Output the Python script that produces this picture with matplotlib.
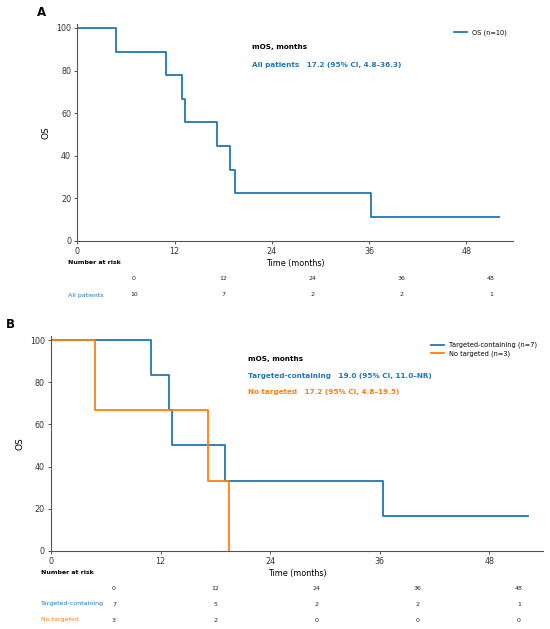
import matplotlib
matplotlib.use("Agg")
import matplotlib.pyplot as plt
import numpy as np

# ---------------- data ----------------
# Panel A: all patients
a_times = [0, 4.8, 11.0, 12.9, 13.3, 17.2, 18.9, 19.5, 36.3, 52.0]
a_surv = [100, 88.9, 77.8, 66.7, 55.6, 44.4, 33.3, 22.2, 11.1, 11.1]

# Panel B
b_tc_times = [0, 11.0, 12.9, 13.3, 19.0, 36.3, 52.2]
b_tc_surv = [100, 83.3, 66.7, 50.0, 33.3, 16.7, 16.7]
b_nt_times = [0, 4.8, 17.2, 19.5]
b_nt_surv = [100, 66.7, 33.3, 0.0]

xticks = [0, 12, 24, 36, 48]
yticks = [0, 20, 40, 60, 80, 100]

risk_times = ["0", "12", "24", "36", "48"]
risk_all = [10, 7, 2, 2, 1]
risk_tc = [7, 5, 2, 2, 1]
risk_nt = [3, 2, 0, 0, 0]

BLUE = "#1f77b4"
ORANGE = "#ff7f0e"

W, H = 550, 629
fig = plt.figure(figsize=(W / 100, H / 100), dpi=100)

TICK_FS = 5.8
LBL_FS = 5.8
ANN_FS = 5.2
LEG_FS = 4.8
TAB_FS = 4.5


def fx(px):
    return px / W


def fy(py):
    return 1 - py / H


def style_ax(ax, xmax):
    ax.set_xlim(0, xmax)
    ax.set_ylim(0, 102)
    ax.set_xticks(xticks)
    ax.set_yticks(yticks)
    for s in ["top", "right"]:
        ax.spines[s].set_visible(False)
    for s in ["left", "bottom"]:
        ax.spines[s].set_color("#555555")
        ax.spines[s].set_linewidth(0.8)
    ax.tick_params(labelsize=TICK_FS, colors="#333333", length=2.5, width=0.6, pad=2)
    ax.set_xlabel("Time (months)", fontsize=LBL_FS, labelpad=2)
    ax.set_ylabel("OS", fontsize=6.5, labelpad=4)


# ---------------- Panel A ----------------
axA = fig.add_axes([fx(77.3), fy(240.7), fx(513.3 - 77.3), (240.7 - 23.7) / H])
axA.step(a_times, a_surv, where="post", color=BLUE, lw=1.3, label="OS (n=10)")
style_ax(axA, 53.8)
axA.legend(loc="upper right", frameon=False, fontsize=LEG_FS,
           bbox_to_anchor=(1.0, 1.0))
axA.text(0.40, 0.893, "mOS, months", transform=axA.transAxes, fontsize=ANN_FS,
         fontweight="bold", va="center")
axA.text(0.40, 0.81, "All patients   17.2 (95% CI, 4.8–36.3)", transform=axA.transAxes,
         fontsize=ANN_FS, fontweight="bold", color=BLUE, va="center")
fig.text(fx(37), fy(12), "A", fontsize=8.5, fontweight="bold", va="center")

# risk table A
fig.text(fx(68), fy(263), "Number at risk", fontsize=TAB_FS, fontweight="bold", va="center")
a_cols = [134 + i * 89.25 for i in range(len(risk_times))]
for xpx, t, n in zip(a_cols, risk_times, risk_all):
    fig.text(fx(xpx), fy(278), t, fontsize=TAB_FS, ha="center", va="center", color="#222222")
    fig.text(fx(xpx), fy(295), str(n), fontsize=TAB_FS, ha="center", va="center", color="#222222")
fig.text(fx(68), fy(295), "All patients", fontsize=TAB_FS, color=BLUE, va="center")

# ---------------- Panel B ----------------
axB = fig.add_axes([fx(51), fy(550.7), fx(543.3 - 51), (550.7 - 336) / H])
axB.step(b_tc_times, b_tc_surv, where="post", color=BLUE, lw=1.3,
         label="Targeted-containing (n=7)")
axB.step(b_nt_times, b_nt_surv, where="post", color=ORANGE, lw=1.3,
         label="No targeted (n=3)")
style_ax(axB, 53.9)
axB.legend(loc="upper right", frameon=False, fontsize=LEG_FS, bbox_to_anchor=(1.0, 1.0),
           labelspacing=0.3)
axB.text(0.40, 0.893, "mOS, months", transform=axB.transAxes, fontsize=ANN_FS,
         fontweight="bold", va="center")
axB.text(0.40, 0.814, "Targeted-containing   19.0 (95% CI, 11.0–NR)",
         transform=axB.transAxes, fontsize=ANN_FS, fontweight="bold", color=BLUE, va="center")
axB.text(0.40, 0.739, "No targeted   17.2 (95% CI, 4.8–19.5)",
         transform=axB.transAxes, fontsize=ANN_FS, fontweight="bold", color=ORANGE, va="center")
fig.text(fx(6), fy(324.5), "B", fontsize=8.5, fontweight="bold", va="center")

# risk table B
fig.text(fx(41), fy(573), "Number at risk", fontsize=TAB_FS, fontweight="bold", va="center")
b_cols = [114 + i * 101.25 for i in range(len(risk_times))]
for xpx, t, n1, n2 in zip(b_cols, risk_times, risk_tc, risk_nt):
    fig.text(fx(xpx), fy(588), t, fontsize=TAB_FS, ha="center", va="center", color="#222222")
    fig.text(fx(xpx), fy(604), str(n1), fontsize=TAB_FS, ha="center", va="center", color="#222222")
    fig.text(fx(xpx), fy(620), str(n2), fontsize=TAB_FS, ha="center", va="center", color="#222222")
fig.text(fx(41), fy(604), "Targeted-containing", fontsize=TAB_FS, color=BLUE, va="center")
fig.text(fx(41), fy(620), "No targeted", fontsize=TAB_FS, color=ORANGE, va="center")

fig.savefig("out.png", dpi=100)
